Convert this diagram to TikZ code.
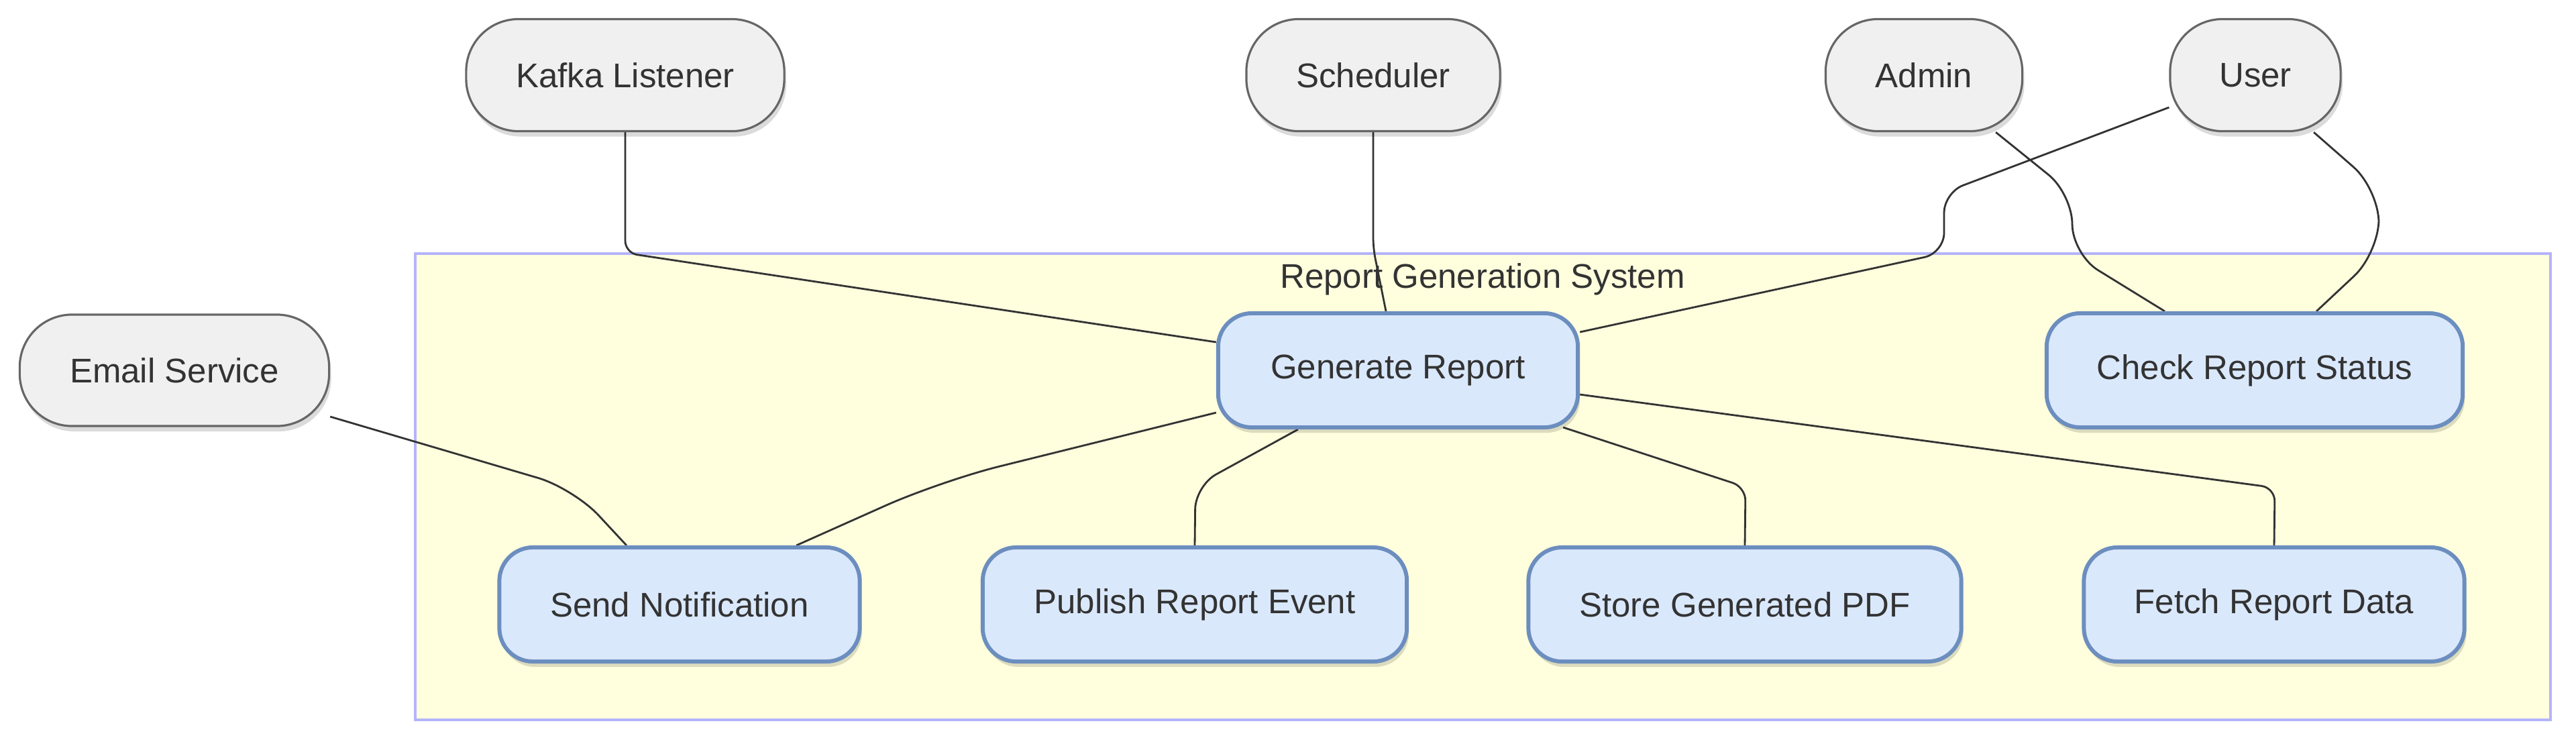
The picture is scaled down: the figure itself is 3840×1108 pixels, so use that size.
\documentclass[tikz,border=0pt]{standalone}
\usepackage{fontspec}
\setmainfont{Liberation Sans}
\usetikzlibrary{shadows}
\definecolor{txt}{HTML}{333333}
\definecolor{actfill}{HTML}{F0F0F0}
\definecolor{actdraw}{HTML}{666666}
\definecolor{ucfill}{HTML}{DAE8FC}
\definecolor{ucdraw}{HTML}{6C8EBF}
\definecolor{clfill}{HTML}{FFFFDE}
\definecolor{cldraw}{HTML}{B4B4FA}
\definecolor{edge}{HTML}{333333}
\pgfdeclarelayer{bg}
\pgfdeclarelayer{edges}
\pgfsetlayers{bg,edges,main}
\tikzset{
  actor/.style={draw=actdraw, fill=actfill, line width=0.9pt, rounded corners=0.78cm,
    minimum height=1.67cm, text=txt, font=\fontsize{14.5}{17}\selectfont,
    drop shadow={shadow xshift=0.03cm, shadow yshift=-0.08cm, opacity=0.14, fill=black}},
  usecase/.style={draw=ucdraw, fill=ucfill, line width=1.7pt, rounded corners=0.5cm,
    minimum height=1.70cm, text=txt, font=\fontsize{14.5}{17}\selectfont,
    drop shadow={shadow xshift=0.03cm, shadow yshift=-0.08cm, opacity=0.14, fill=black}},
  conn/.style={draw=edge, line width=0.8pt},
}
\begin{document}
\begin{tikzpicture}[x=0.01cm, y=-0.01cm]
\useasboundingbox (0,0) rectangle (3840,1108);
\begin{pgfonlayer}{bg}
\fill[white] (0,0) rectangle (3840,1108);
\draw[fill=clfill, draw=cldraw, line width=0.9pt] (619,378) rectangle (3802,1073);
\end{pgfonlayer}
\node[text=txt, font=\fontsize{14.5}{17}\selectfont] (systitle) at (2210,416) {Report Generation System};

% actors
\node[actor, minimum width=4.74cm] (kafka) at (932,112) {Kafka Listener};
\node[actor, minimum width=3.78cm] (sched) at (2047,112) {Scheduler};
\node[actor, minimum width=2.93cm] (admin) at (2868,112) {Admin};
\node[actor, minimum width=2.54cm] (user) at (3362,112) {User};
\node[actor, minimum width=4.61cm, minimum height=1.66cm] (email) at (260,552) {Email Service};

% use cases
\node[usecase, minimum width=5.36cm] (gen) at (2084,552) {Generate Report};
\node[usecase, minimum width=6.20cm] (check) at (3361,552) {Check Report Status};
\node[usecase, minimum width=5.37cm] (send) at (1013,901) {Send Notification};
\node[usecase, minimum width=6.32cm] (pub) at (1781,901) {Publish Report Event};
\node[usecase, minimum width=6.45cm] (store) at (2601,901) {Store Generated PDF};
\node[usecase, minimum width=5.67cm] (fetch) at (3390,901) {Fetch Report Data};

\begin{pgfonlayer}{edges}
\draw[conn, rounded corners=0.18cm] (kafka.south) -- (932,377) -- ([yshift=0.42cm]gen.west);
\draw[conn, rounded corners=0.15cm] (sched.south) -- (2047,370) -- ([xshift=-0.18cm]gen.north);
\draw[conn, rounded corners=0.3cm] ([yshift=-0.48cm]user.west) -- (2898,287) -- (2898,377) -- ([yshift=0.57cm]gen.east);
\draw[conn, rounded corners=0.45cm] ([xshift=1.07cm]admin.south) -- (3089,289) -- (3089,379) -- ([xshift=-1.34cm]check.north);
\draw[conn, rounded corners=0.5cm] ([xshift=0.87cm]user.south) -- (3546,282) -- (3546,377) -- ([xshift=0.92cm]check.north);
\draw[conn, rounded corners=0.55cm] ([yshift=-0.69cm]email.east) -- (855,728) -- ([xshift=-0.79cm]send.north);
\draw[conn, rounded corners=0.9cm] ([yshift=-0.63cm]gen.west) -- (1402,717) -- ([xshift=1.74cm]send.north);
\draw[conn, rounded corners=0.35cm] ([xshift=-1.49cm]gen.south) -- (1782,724) -- (pub.north);
\draw[conn, rounded corners=0.2cm] ([xshift=2.46cm,yshift=0.03cm]gen.south) -- (2602,726) -- (store.north);
\draw[conn, rounded corners=0.2cm] ([yshift=-0.36cm]gen.east) -- (3391,727) -- (fetch.north);
\end{pgfonlayer}
\end{tikzpicture}
\end{document}
